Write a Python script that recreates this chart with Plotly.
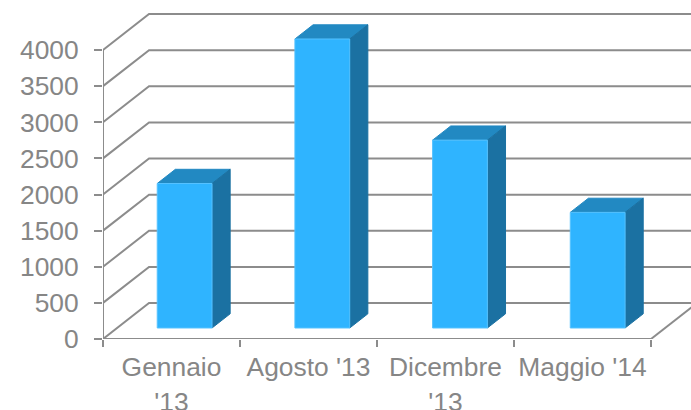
import plotly.graph_objects as go

categories = ["Gennaio<br>'13", "Agosto '13", "Dicembre<br>'13", "Maggio '14"]
values = [2000, 4000, 2600, 1600]
y_ticks = [0, 500, 1000, 1500, 2000, 2500, 3000, 3500, 4000]

GRAY = "#8c8c8c"
TEXT = "#868686"
FRONT, TOP, SIDE, EDGE = "#2fb4ff", "#2289c2", "#1b71a2", "#55c2ff"

# oblique projection, in axis units per unit of depth
DEPTH_X = 0.336
DEPTH_Y = 498
BAR_LEFT, BAR_WIDTH, BAR_PITCH = 0.293, 0.400, 1.005
D0, D1 = 0.306, 0.70


def proj(x, y, d):
    return x + d * DEPTH_X, y + d * DEPTH_Y


fig = go.Figure()


def line(xs, ys, width=2):
    fig.add_trace(go.Scatter(x=xs, y=ys, mode="lines", cliponaxis=False, hoverinfo="skip",
                             line=dict(color=GRAY, width=width)))


def poly(points, color, edge):
    xs = [p[0] for p in points] + [points[0][0]]
    ys = [p[1] for p in points] + [points[0][1]]
    fig.add_trace(go.Scatter(x=xs, y=ys, mode="lines", fill="toself", fillcolor=color, cliponaxis=False,
                             hoverinfo="skip", line=dict(color=edge, width=1)))


n = len(categories)
line([0, 0], [0, y_ticks[-1]])
line([0, n], [0, 0])
for t in y_ticks:
    bx, by = proj(0, t, 1)
    ex, ey = proj(n, t, 1)
    line([0, bx, ex], [t, by, ey])
fx, fy = proj(n, 0, 1)
line([n, fx], [0, fy])

for i, v in enumerate(values):
    x0 = i * BAR_PITCH + BAR_LEFT
    x1 = x0 + BAR_WIDTH
    a = proj(x0, v, D0)
    b = proj(x1, v, D0)
    c = proj(x1, v, D1)
    d = proj(x0, v, D1)
    e = proj(x1, 0, D0)
    f = proj(x1, 0, D1)
    g = proj(x0, 0, D0)
    poly([a, b, c, d], TOP, TOP)
    poly([b, c, f, e], SIDE, SIDE)
    poly([g, e, b, a], FRONT, EDGE)

font = dict(family="Liberation Sans, Arial, sans-serif", size=26.4, color=TEXT)
fig.update_layout(
    width=691, height=410, autosize=False, showlegend=False,
    paper_bgcolor="white", plot_bgcolor="rgba(0,0,0,0)",
    margin=dict(l=103, r=0, t=0, b=71, pad=0),
    font=font,
    xaxis=dict(range=[0, 588 / 137], showgrid=False, zeroline=False, showline=False, automargin=False,
               tickmode="array", tickvals=[i + 0.5 for i in range(n)], ticktext=categories, ticks="",
               minor=dict(tickmode="array", tickvals=list(range(n + 1)), ticks="outside", ticklen=7,
                          tickcolor=GRAY, tickwidth=2, showgrid=False),
               tickfont=font, ticklabelstandoff=10),
    yaxis=dict(range=[0, 339 * 4000 / 289], showgrid=False, zeroline=False, showline=False, automargin=False,
               tickmode="array", tickvals=y_ticks, ticks="outside", ticklen=8, tickcolor=GRAY, tickwidth=2,
               tickfont=font, ticklabelstandoff=10),
)
fig.write_html("out.html", config={"displayModeBar": False},
               post_script="document.body.style.margin='0';")
